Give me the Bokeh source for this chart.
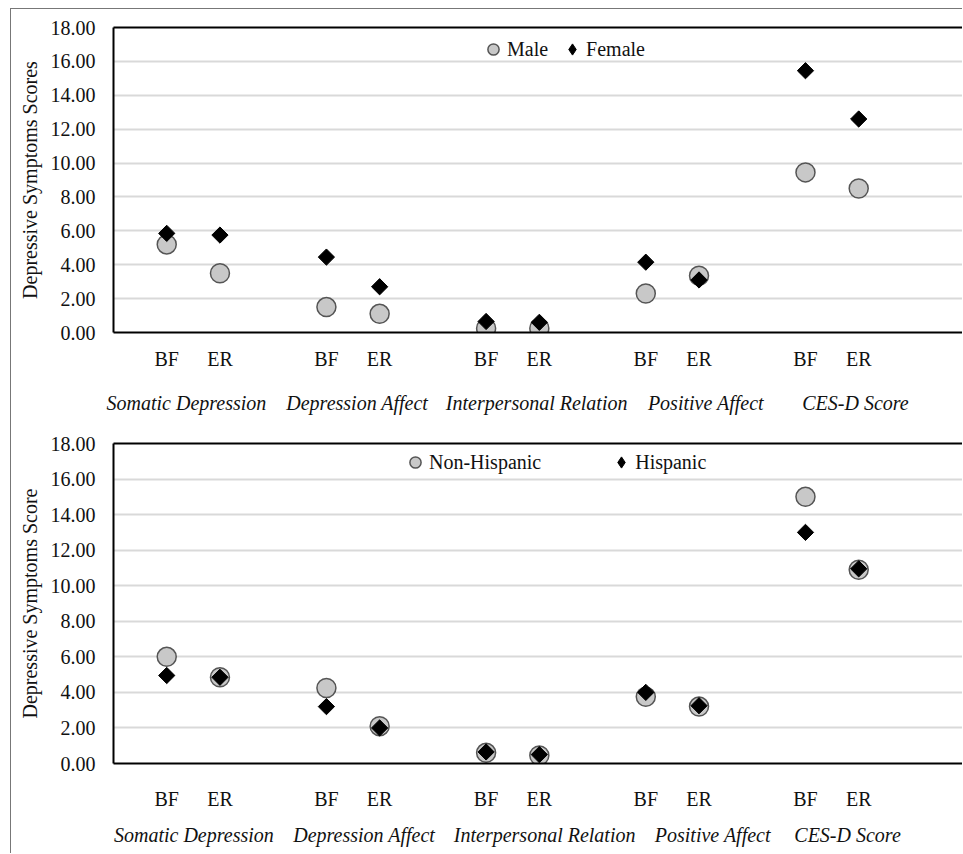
import numpy as np
from bokeh.plotting import figure
from bokeh.models import (Range1d, FixedTicker, NumeralTickFormatter, LinearAxis,
                          Legend, LegendItem)
from bokeh.layouts import column
from bokeh.embed import file_html
from bokeh.resources import INLINE

# ---------------- data ----------------
groups = ["Somatic Depression", "Depression Affect", "Interpersonal Relation",
          "Positive Affect", "CES-D Score"]
times = ["BF", "ER"]

male = [5.2, 3.5, 1.5, 1.1, 0.25, 0.25, 2.3, 3.35, 9.45, 8.5]
female = [5.85, 5.75, 4.45, 2.7, 0.65, 0.6, 4.15, 3.1, 15.45, 12.6]

non_hispanic = [6.0, 4.85, 4.25, 2.1, 0.6, 0.45, 3.75, 3.2, 15.0, 10.9]
hispanic = [4.95, 4.85, 3.2, 2.0, 0.65, 0.5, 4.0, 3.25, 13.0, 10.95]

y_ticks = [0, 2, 4, 6, 8, 10, 12, 14, 16, 18]

# ---------------- style / layout ----------------
FONT = "Liberation Serif"
TXT = "#111111"
GRID = "#d9d9d9"
CIRCLE_FILL = "#c8c8c8"
CIRCLE_LINE = "#555555"


def make_panel(name1, vals1, name2, vals2, ylabel, height, b_top, b_bottom,
               tick_standoff, group_standoff, group_shift, legend_loc, legend_spacing):
    # slot position of each (group, time) pair: 3 slots per group (BF, ER, gap)
    xs = [3 * g + t for g in range(len(groups)) for t in range(len(times))]
    xlabels = {3 * g + t: times[t] for g in range(len(groups)) for t in range(len(times))}
    gpos = [3 * g + 0.5 + group_shift[g] for g in range(len(groups))]
    glabels = {gpos[g]: groups[g] for g in range(len(groups))}

    p = figure(width=951, height=height, x_range=Range1d(-1, 14.95), y_range=Range1d(0, 18),
               output_backend="svg", toolbar_location=None,
               min_border_left=102, min_border_right=0,
               min_border_top=b_top, min_border_bottom=b_bottom,
               y_axis_label=ylabel)
    p.outline_line_color = None
    p.background_fill_color = "white"
    p.border_fill_color = "white"

    # grid
    p.xgrid.visible = False
    p.ygrid.ticker = FixedTicker(ticks=y_ticks)
    p.ygrid.grid_line_color = GRID
    p.ygrid.grid_line_width = 2

    # y axis
    ya = p.yaxis[0]
    ya.ticker = FixedTicker(ticks=y_ticks)
    ya.formatter = NumeralTickFormatter(format="0.00")
    ya.axis_line_color = "black"
    ya.axis_line_width = 2
    ya.major_tick_line_color = None
    ya.minor_tick_line_color = None
    ya.major_tick_out = 0
    ya.major_tick_in = 0
    ya.major_label_standoff = 18
    ya.major_label_text_font = FONT
    ya.major_label_text_font_size = "20px"
    ya.major_label_text_color = TXT
    ya.axis_label_text_font = FONT
    ya.axis_label_text_font_size = "20px"
    ya.axis_label_text_font_style = "normal"
    ya.axis_label_text_color = TXT
    ya.axis_label_standoff = 7

    # x axis (BF / ER)
    xa = p.xaxis[0]
    xa.ticker = FixedTicker(ticks=xs)
    xa.major_label_overrides = xlabels
    xa.axis_line_color = "black"
    xa.axis_line_width = 2
    xa.major_tick_line_color = None
    xa.minor_tick_line_color = None
    xa.major_tick_out = 0
    xa.major_tick_in = 0
    xa.major_label_standoff = tick_standoff
    xa.major_label_text_font = FONT
    xa.major_label_text_font_size = "20px"
    xa.major_label_text_color = TXT

    # group names axis
    ga = LinearAxis(ticker=FixedTicker(ticks=gpos), major_label_overrides=glabels,
                    axis_line_color=None, major_tick_line_color=None,
                    minor_tick_line_color=None, major_tick_out=0, major_tick_in=0,
                    major_label_standoff=group_standoff,
                    major_label_text_font=FONT, major_label_text_font_size="20px",
                    major_label_text_font_style="italic", major_label_text_color=TXT)
    p.add_layout(ga, "below")

    # top frame line
    ta = LinearAxis(ticker=FixedTicker(ticks=[]), axis_line_color="black", axis_line_width=2,
                    major_tick_line_color=None, minor_tick_line_color=None,
                    major_tick_out=0, major_tick_in=0, minor_tick_out=0,
                    major_label_text_font_size="0px", major_label_standoff=0)
    p.add_layout(ta, "above")

    r1 = p.scatter(xs, vals1, marker="circle", size=19, fill_color=CIRCLE_FILL,
                   line_color=CIRCLE_LINE, line_width=1.5)
    # diamond-shaped key for the legend (legend glyphs are drawn unrotated);
    # it sits fully hidden beneath the rotated squares drawn on top of it
    r2_key = p.scatter(xs, vals2, marker="diamond", size=12, fill_color="black",
                       line_color="black", line_width=1)
    r2 = p.scatter(xs, vals2, marker="square", angle=np.pi / 4, size=11.5,
                   fill_color="black", line_color="black", line_width=1)

    legend = Legend(items=[LegendItem(label=name1, renderers=[r1]),
                           LegendItem(label=name2, renderers=[r2_key])],
                    orientation="horizontal", location=legend_loc,
                    glyph_width=28, glyph_height=28, label_standoff=0,
                    spacing=legend_spacing, padding=0, margin=0,
                    border_line_color=None, background_fill_alpha=0,
                    label_text_font=FONT, label_text_font_size="20px",
                    label_text_color=TXT)
    p.add_layout(legend)
    return p


p1 = make_panel("Male", male, "Female", female, "Depressive Symptoms Scores",
                height=421, b_top=18, b_bottom=98, tick_standoff=15, group_standoff=19,
                group_shift=[-0.13, 0.08, 0.45, 0.63, 0.44],
                legend_loc=(366, 269), legend_spacing=10)
p2 = make_panel("Non-Hispanic", non_hispanic, "Hispanic", hispanic,
                "Depressive Symptoms Score",
                height=423, b_top=13, b_bottom=90, tick_standoff=24, group_standoff=11,
                group_shift=[0.01, 0.21, 0.6, 0.76, 0.29],
                legend_loc=(288, 287), legend_spacing=66)

layout = column(p1, p2, spacing=0,
                styles={"margin-left": "10px", "margin-top": "8px",
                        "border-left": "1px solid #777", "border-top": "1px solid #777"})

open("out.html", "w").write(file_html(layout, INLINE))
